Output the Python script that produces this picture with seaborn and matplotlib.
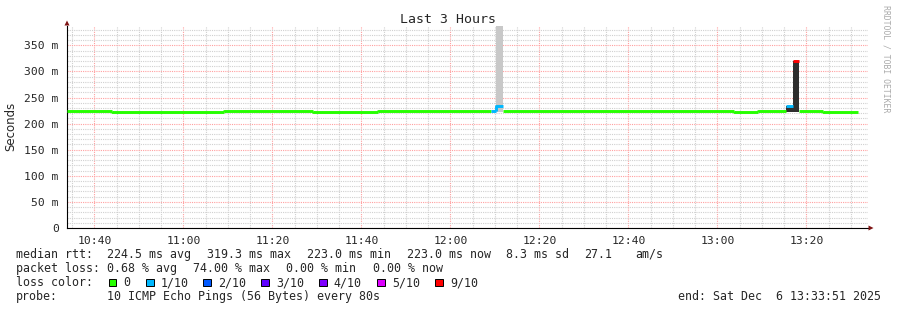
import numpy as np
import pandas as pd
import matplotlib
matplotlib.use("Agg")
import matplotlib.pyplot as plt
import seaborn as sns
from matplotlib.patches import Rectangle, Polygon

# ---------------- data ----------------
# time in minutes relative to 10:40 (window 10:33:51 .. 13:33:51)
seg_start = [-6.13, 3.98, 29.2, 49.2, 63.8, 89.1, 90.3, 91.9, 143.8, 149.2, 155.5, 156.9, 158.4, 163.8]
seg_end = [3.98, 29.2, 49.2, 63.8, 89.1, 90.3, 91.9, 143.8, 149.2, 155.5, 156.9, 158.4, 163.8, 171.6]
seg_median_ms = [225.0, 223.0, 225.0, 223.0, 225.0, 224.5, 233.0, 225.0, 223.0, 225.0, 233.5, 319.3, 225.0, 223.0]
seg_loss = [0, 0, 0, 0, 0, 1, 1, 0, 0, 0, 1, 9, 0, 0]

smoke_start = [90.3, 155.5, 156.9]
smoke_end = [91.9, 156.9, 158.4]
smoke_low_ms = [222.0, 222.0, 222.0]
smoke_high_ms = [400.0, 234.5, 319.3]

xtick_minutes = [0, 20, 40, 60, 80, 100, 120, 140, 160]
xtick_labels = ["10:40", "11:00", "11:20", "11:40", "12:00", "12:20", "12:40", "13:00", "13:20"]
ytick_ms = [0, 50, 100, 150, 200, 250, 300, 350]
ytick_labels = ["0", "50 m", "100 m", "150 m", "200 m", "250 m", "300 m", "350 m"]

loss_levels = [0, 1, 2, 3, 4, 5, 9]
loss_labels = ["0", "1/10", "2/10", "3/10", "4/10", "5/10", "9/10"]
loss_colors = ["#26ff00", "#00b8ff", "#0059ff", "#5e00ff", "#7e00ff", "#dd00ff", "#ff0000"]

title = "Last 3 Hours"
rtt_items = ["median rtt:", "224.5 ms avg", "319.3 ms max", "223.0 ms min", "223.0 ms now",
             "8.3 ms sd", "27.1", "am/s"]
loss_items = ["packet loss:", "0.68 % avg", "74.00 % max", "0.00 % min", "0.00 % now"]
probe_items = ["probe:", "10 ICMP Echo Pings (56 Bytes) every 80s"]
end_text = "end: Sat Dec  6 13:33:51 2025"

# ---------------- figure ----------------
sns.set_style("white")
plt.rcParams["font.family"] = ["DejaVu Sans Mono"]

W, H = 897, 310
fig = plt.figure(figsize=(W / 100, H / 100), dpi=100)
fig.patch.set_facecolor("white")


def fx(px):
    return px / W


def fy(py):
    return 1 - py / H


ax = fig.add_axes([fx(67), fy(228), (868 - 67) / W, (228 - 26) / H])
ax.set_facecolor("white")
ax.set_axisbelow(True)

# smoke
smoke_colors = ["#c8c8c8", "#2e2e2e", "#2e2e2e"]
for s, e, lo, hi, c in zip(smoke_start, smoke_end, smoke_low_ms, smoke_high_ms, smoke_colors):
    ax.fill_between([s, e], [lo, lo], [hi, hi], color=c, lw=0, zorder=2)

# median line, coloured by loss
rows = []
for i, (s, e, m, l) in enumerate(zip(seg_start, seg_end, seg_median_ms, seg_loss)):
    if i > 0 and seg_loss[i - 1] == l:
        rows.append(dict(t=s, ms=seg_median_ms[i - 1], seg=i, loss=l))
    rows.append(dict(t=s, ms=m, seg=i, loss=l))
    rows.append(dict(t=e, ms=m, seg=i, loss=l))
df = pd.DataFrame(rows)
palette = {lv: c for lv, c in zip(loss_levels, loss_colors)}
used = sorted(df["loss"].unique())
sns.lineplot(data=df, x="t", y="ms", hue="loss", units="seg", estimator=None,
             palette={k: palette[k] for k in used}, hue_order=used, sort=False,
             linewidth=2.1, legend=False, ax=ax, zorder=3, solid_capstyle="butt")

ax.set_xlim(-6.15, 173.85)
ax.set_ylim(0, 387)
ax.set_xlabel("")
ax.set_ylabel("")

ax.set_xticks(xtick_minutes)
ax.set_xticklabels(xtick_labels)
ax.set_xticks(np.arange(-5, 175, 5), minor=True)
ax.set_yticks(ytick_ms)
ax.set_yticklabels(ytick_labels)
ax.set_yticks(np.arange(10, 387, 10), minor=True)

ax.grid(which="minor", color="#d0d0d0", linestyle=(0, (1, 1)), linewidth=0.8)
ax.grid(which="major", color="#ffa0a0", linestyle=(0, (1, 1)), linewidth=0.8)

for sp in ["top", "right"]:
    ax.spines[sp].set_visible(False)
for sp in ["left", "bottom"]:
    ax.spines[sp].set_color("black")
    ax.spines[sp].set_linewidth(0.8)

ax.tick_params(axis="both", which="major", direction="out", length=3, width=0.8,
               color="black", labelsize=8.2, pad=3)
ax.tick_params(axis="both", which="minor", direction="out", length=1.5, width=0.6, color="black")
ax.tick_params(axis="x", which="major", pad=3)

# axis arrows
arrow_c = "#7f1414"
fig.add_artist(Polygon([[fx(64.5), fy(25.5)], [fx(69.5), fy(25.5)], [fx(67), fy(20.5)]],
                       closed=True, transform=fig.transFigure, color=arrow_c, lw=0))
fig.add_artist(Polygon([[fx(868.5), fy(225.5)], [fx(868.5), fy(230.5)], [fx(873.5), fy(228)]],
                       closed=True, transform=fig.transFigure, color=arrow_c, lw=0))

# title and labels
fig.text(fx(448), fy(19.5), title, ha="center", va="center", fontsize=9.5)
fig.text(fx(11), fy(126), "Seconds", rotation=90, ha="center", va="center",
         fontsize=8.5, family=["DejaVu Sans"])
fig.text(fx(886), fy(59), "RRDTOOL / TOBI OETIKER", rotation=270, ha="center", va="center",
         fontsize=5.9, color="#aaaaaa")

# legend / stats
fs = 8.4
rtt_x = [16, 107.3, 207.3, 307.3, 407.3, 506.0, 584.0, 635.0]
for x0, t in zip(rtt_x, rtt_items):
    fig.text(fx(x0), fy(254.3), t, ha="left", va="center", fontsize=fs)
loss_x = [16, 107.3, 193.3, 286.0, 372.7]
for x0, t in zip(loss_x, loss_items):
    fig.text(fx(x0), fy(268.3), t, ha="left", va="center", fontsize=fs)
fig.text(fx(16), fy(282.5), "loss color:", ha="left", va="center", fontsize=fs)
probe_x = [16, 107.3]
for x0, t in zip(probe_x, probe_items):
    fig.text(fx(x0), fy(296.5), t, ha="left", va="center", fontsize=fs)
fig.text(fx(678), fy(296.5), end_text, ha="left", va="center", fontsize=fs)

sq_x = [108.7, 146.0, 203.3, 261.3, 319.3, 377.3, 435.3]
for x0, lab, c in zip(sq_x, loss_labels, loss_colors):
    fig.add_artist(Rectangle((fx(x0), fy(286)), 7.5 / W, 7.5 / H, transform=fig.transFigure,
                             facecolor=c, edgecolor="black", lw=0.7))
    fig.text(fx(x0 + 14.5), fy(282.5), lab, ha="left", va="center", fontsize=fs)

fig.savefig("out.png", dpi=100, facecolor="white")
